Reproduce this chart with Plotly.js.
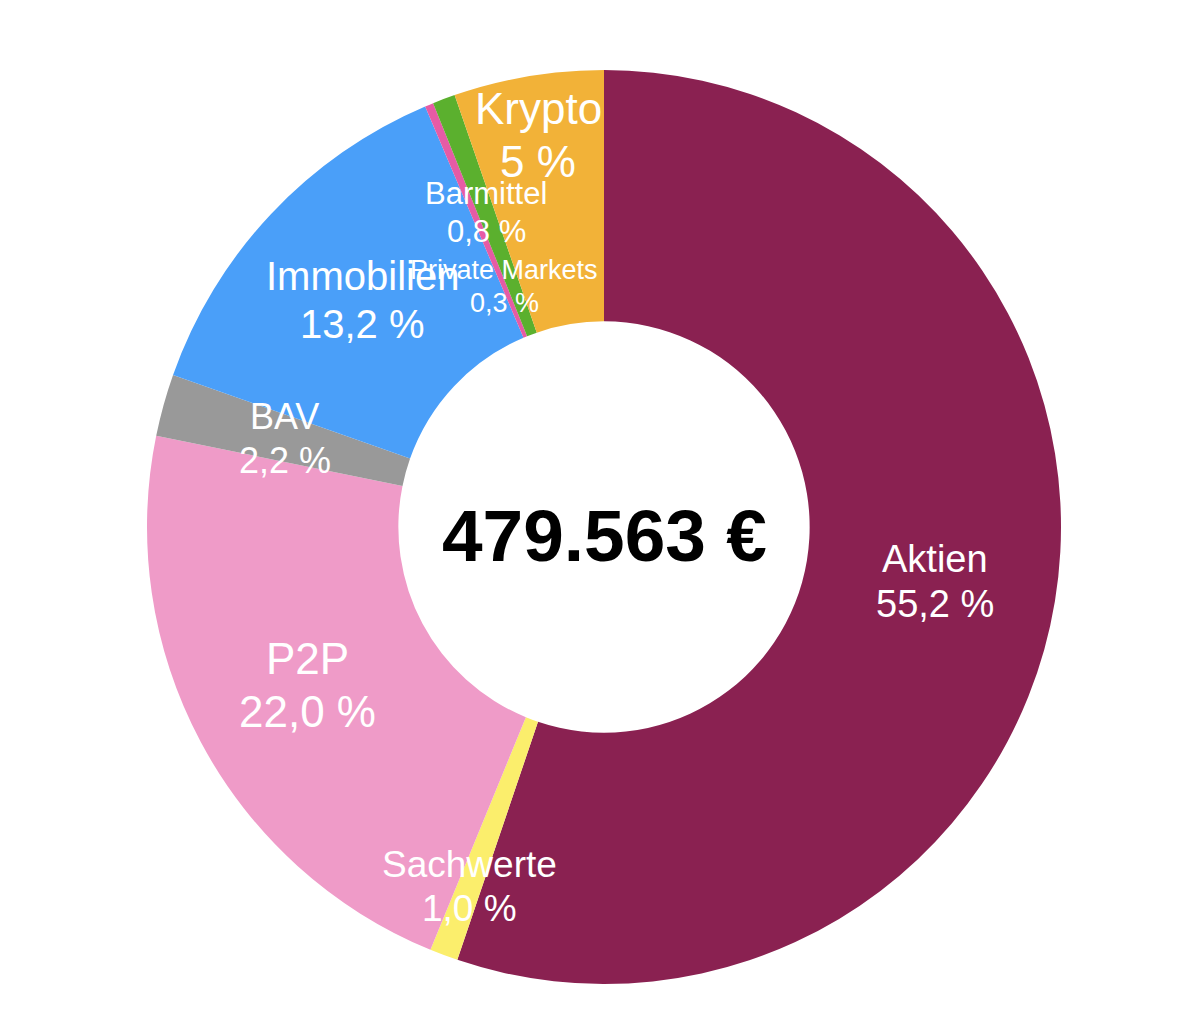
<!DOCTYPE html>
<html>
<head>
<meta charset="utf-8">
<script src="https://cdn.plot.ly/plotly-3.0.1.min.js"></script>
<style>
  html, body { margin: 0; padding: 0; background: #fff; }
  #chart { width: 1188px; height: 1022px; }
</style>
</head>
<body>
<div id="chart"></div>
<script>
// slices, clockwise from 12 o'clock
const categories = ['Aktien', 'Sachwerte', 'P2P', 'BAV', 'Immobilien', 'Private Markets', 'Barmittel', 'Krypto'];
const shares = [55.2, 1.0, 22.0, 2.2, 13.2, 0.3, 0.8, 5.3];
const shareLabels = ['55,2 %', '1,0 %', '22,0 %', '2,2 %', '13,2 %', '0,3 %', '0,8 %', '5 %'];
const totalLabel = '479.563 €';

const colors = ['#8a2151', '#fbee6c', '#ef9bc8', '#999999', '#4a9ff9', '#e65ba5', '#5bb02e', '#f2b238'];
// label placement: distance from centre as fraction of outer radius, font size
const labelRadius = [0.735, 0.84, 0.735, 0.725, 0.725, 0.57, 0.735, 0.87];
const labelSize = [38, 37, 44, 36, 40, 27, 31, 44];
const lineGap = 1.2; // line spacing of the two label lines, in em

const W = 1188, H = 1022;
const margin = { l: 20, r: 0, t: 70, b: 38 };
const plotW = W - margin.l - margin.r;
const plotH = H - margin.t - margin.b;
const R = Math.min(plotW, plotH) / 2;

const font = '"Liberation Sans", Arial, Helvetica, sans-serif';

const total = shares.reduce((a, b) => a + b, 0);
let cum = 0;
const annotations = [];
categories.forEach((name, i) => {
  const mid = (cum + shares[i] / 2) / total * 2 * Math.PI;
  cum += shares[i];
  const r = labelRadius[i] * R;
  const x = 0.5 + r * Math.sin(mid) / plotW;
  const y = 0.5 + r * Math.cos(mid) / plotH;
  const half = labelSize[i] * lineGap / 2;
  [[name, half], [shareLabels[i], -half]].forEach(([txt, shift]) => {
    annotations.push({
      xref: 'paper', yref: 'paper', x: x, y: y,
      xanchor: 'center', yanchor: 'middle', yshift: shift,
      text: txt,
      showarrow: false,
      font: { family: font, size: labelSize[i], color: '#ffffff' }
    });
  });
});

annotations.push({
  xref: 'paper', yref: 'paper', x: 0.5, y: 0.5,
  xanchor: 'center', yanchor: 'middle', yshift: -8,
  text: '<b>' + totalLabel + '</b>',
  showarrow: false,
  font: { family: font, size: 73, color: '#000000' }
});

Plotly.newPlot('chart', [{
  type: 'pie',
  labels: categories,
  values: shares,
  hole: 0.45,
  sort: false,
  direction: 'clockwise',
  rotation: 0,
  textposition: 'none',
  marker: { colors: colors, line: { width: 0 } },
  hoverinfo: 'label+percent'
}], {
  width: W, height: H,
  margin: margin,
  showlegend: false,
  paper_bgcolor: '#ffffff',
  annotations: annotations
}, { displayModeBar: false, staticPlot: true });
</script>
</body>
</html>
